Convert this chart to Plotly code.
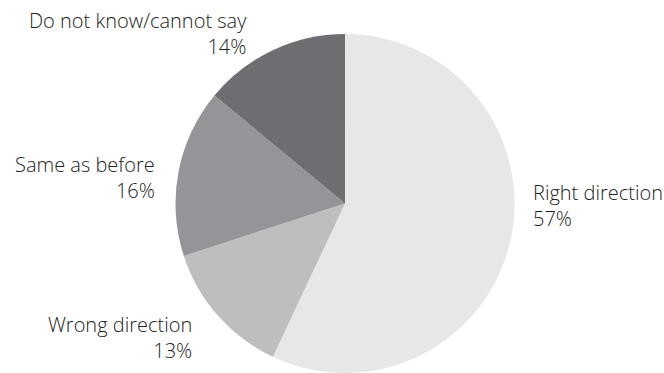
import plotly.graph_objects as go

# Survey responses: perceived direction of change
categories = ["Right direction", "Wrong direction", "Same as before", "Do not know/cannot say"]
shares = [57, 13, 16, 14]
colors = ["#e6e7e8", "#bcbec0", "#939598", "#6d6e71"]

W, H = 664, 373

fig = go.Figure(
    go.Pie(
        labels=categories,
        values=shares,
        sort=False,
        direction="clockwise",
        rotation=0,
        marker=dict(colors=colors, line=dict(width=0)),
        textinfo="none",
        hoverinfo="label+percent",
        domain=dict(x=[0.2643, 0.7749], y=[0.0, 0.9088]),
        showlegend=False,
    )
)

# Outside labels: (x, y, xanchor, align) in paper coordinates
label_pos = {
    "Right direction": (531 / W, 1 - 205 / H, "left", "left"),
    "Wrong direction": (194 / W, 1 - 337 / H, "right", "right"),
    "Same as before": (157 / W, 1 - 177 / H, "right", "right"),
    "Do not know/cannot say": (249 / W, 1 - 33 / H, "right", "right"),
}

for name, val in zip(categories, shares):
    x, y, xa, al = label_pos[name]
    fig.add_annotation(
        x=x, y=y, xref="paper", yref="paper",
        text=f"{name}<br>{val}%",
        showarrow=False, xanchor=xa, yanchor="middle", align=al,
        font=dict(family="Open Sans", size=20, color="#222222", weight=300),
    )

fig.update_layout(
    width=W, height=H,
    margin=dict(l=0, r=0, t=0, b=0),
    paper_bgcolor="white",
    plot_bgcolor="white",
)

fig.write_html("out.html")
